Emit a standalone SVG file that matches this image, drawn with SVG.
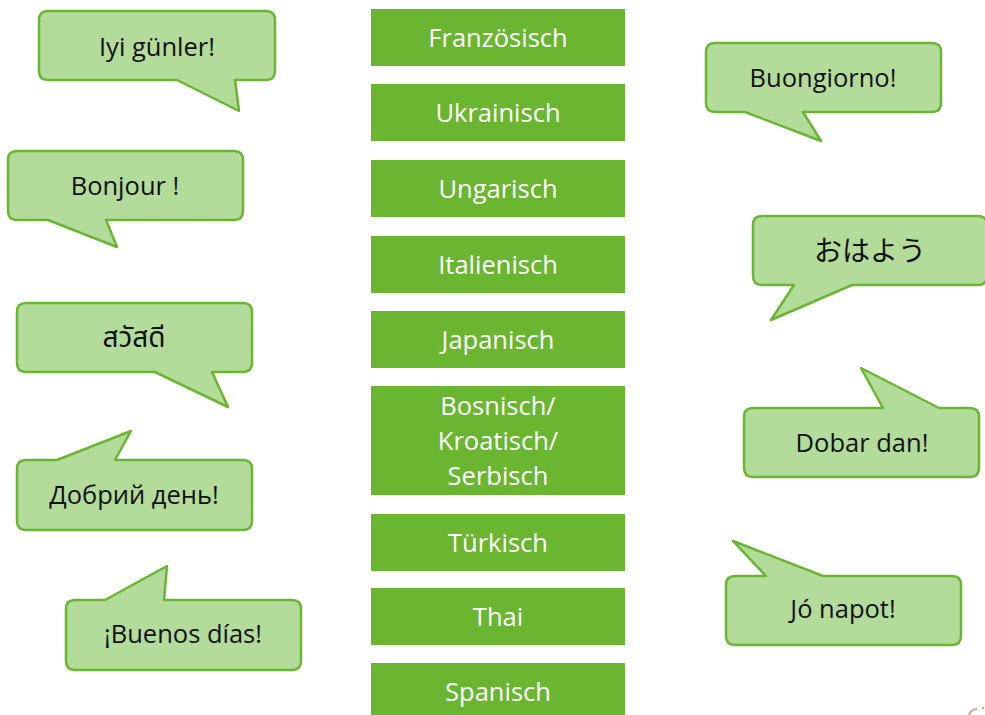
<svg xmlns="http://www.w3.org/2000/svg" width="985" height="715" viewBox="0 0 985 715">
<style>
.box{fill:#6AB631}
.bt{fill:#ffffff;font-family:"Open Sans","Noto Sans",sans-serif;font-size:25.5px;text-anchor:middle}
.bub{fill:#B3DC9A;stroke:#6AB631;stroke-width:2.5;stroke-linejoin:round}
.tt{fill:#111111;font-family:"Open Sans","Noto Sans","Noto Sans Thai","Noto Sans CJK JP",sans-serif;font-size:25.5px;text-anchor:middle}
.th{font-size:28px}
.jp{font-family:"Noto Sans CJK JP",sans-serif;font-size:28px}
</style>
<rect width="985" height="715" fill="#ffffff"/>
<g id="languages">
<g id="lang-fr"><rect class="box" x="371" y="9" width="254" height="57"/><text class="bt" x="498" y="47">Französisch</text></g>
<g id="lang-uk"><rect class="box" x="371" y="84" width="254" height="57"/><text class="bt" x="498" y="122">Ukrainisch</text></g>
<g id="lang-hu"><rect class="box" x="371" y="160" width="254" height="57"/><text class="bt" x="498" y="198">Ungarisch</text></g>
<g id="lang-it"><rect class="box" x="371" y="236" width="254" height="57"/><text class="bt" x="498" y="274">Italienisch</text></g>
<g id="lang-ja"><rect class="box" x="371" y="311" width="254" height="57"/><text class="bt" x="498" y="349">Japanisch</text></g>
<g id="lang-bks"><rect class="box" x="371" y="386" width="254" height="109"/><text class="bt" x="498" y="415">Bosnisch/</text><text class="bt" x="498" y="450">Kroatisch/</text><text class="bt" x="498" y="485">Serbisch</text></g>
<g id="lang-tr"><rect class="box" x="371" y="514" width="254" height="57"/><text class="bt" x="498" y="552">Türkisch</text></g>
<g id="lang-th"><rect class="box" x="371" y="588" width="254" height="57"/><text class="bt" x="498" y="626">Thai</text></g>
<g id="lang-es"><rect class="box" x="371" y="663" width="254" height="57"/><text class="bt" x="498" y="701">Spanisch</text></g>
</g>
<g id="bubbles">
<g id="b-tr"><path class="bub" d="M48,11 H266 Q275,11 275,20 V71 Q275,80 266,80 H235 L239,111 L177,80 H48 Q39,80 39,71 V20 Q39,11 48,11 Z"/><text class="tt" x="157" y="56">Iyi günler!</text></g>
<g id="b-fr"><path class="bub" d="M17,151 H234 Q243,151 243,160 V211 Q243,220 234,220 H106 L117,247 L48,220 H17 Q8,220 8,211 V160 Q8,151 17,151 Z"/><text class="tt" x="125" y="195">Bonjour !</text></g>
<g id="b-th"><path class="bub" d="M26,303 H243 Q252,303 252,312 V363 Q252,372 243,372 H212 L228,407 L155,372 H26 Q17,372 17,363 V312 Q17,303 26,303 Z"/><text class="tt th" x="134" y="347">สวัสดี</text></g>
<g id="b-uk"><path class="bub" d="M26,460 H57 L131,431 L115,460 H243 Q252,460 252,469 V521 Q252,530 243,530 H26 Q17,530 17,521 V469 Q17,460 26,460 Z"/><text class="tt" x="134" y="504">Добрий день!</text></g>
<g id="b-es"><path class="bub" d="M75,600 H105 L167,566 L164,600 H292 Q301,600 301,609 V661 Q301,670 292,670 H75 Q66,670 66,661 V609 Q66,600 75,600 Z"/><text class="tt" x="183" y="643">¡Buenos días!</text></g>
<g id="b-it"><path class="bub" d="M715,43 H932 Q941,43 941,52 V103 Q941,112 932,112 H803 L821,141 L745,112 H715 Q706,112 706,103 V52 Q706,43 715,43 Z"/><text class="tt" x="823" y="87">Buongiorno!</text></g>
<g id="b-ja"><path class="bub" d="M762,216 H978 Q987,216 987,225 V276 Q987,285 978,285 H852 L771,320 L794,285 H762 Q753,285 753,276 V225 Q753,216 762,216 Z"/><text class="tt jp" x="870" y="261">おはよう</text></g>
<g id="b-bks"><path class="bub" d="M753,408 H883 L861,368 L939,408 H970 Q979,408 979,417 V468 Q979,477 970,477 H753 Q744,477 744,468 V417 Q744,408 753,408 Z"/><text class="tt" x="862" y="452">Dobar dan!</text></g>
<g id="b-hu"><path class="bub" d="M735,576 H766 L733,541 L823,576 H952 Q961,576 961,585 V636 Q961,645 952,645 H735 Q726,645 726,636 V585 Q726,576 735,576 Z"/><text class="tt" x="843" y="618">Jó napot!</text></g>
</g>
<g id="connectors"></g>
<path d="M969,715 Q971,709 977,709" fill="none" stroke="#C8A98A" stroke-width="2"/>
<circle cx="983" cy="708" r="1.3" fill="#C8A98A"/>
</svg>
